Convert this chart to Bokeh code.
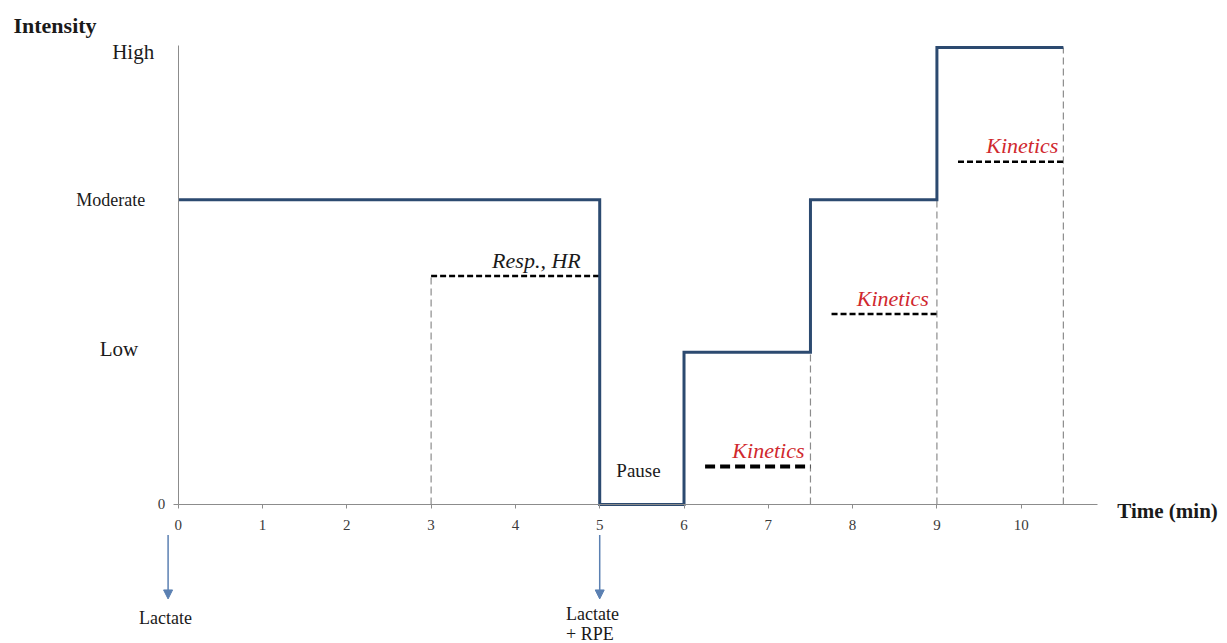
from bokeh.plotting import figure
from bokeh.models import Range1d, FixedTicker, Label, Arrow, NormalHead
from bokeh.core.properties import value
from bokeh.embed import file_html
from bokeh.resources import INLINE

# ---------------- data ----------------
step_times = [0, 5, 6, 7.5, 9, 10.5]          # min, start of each stage (+ end)
step_levels = [2, 0, 1, 2, 3, 3]              # intensity level of each stage
level_values = [0, 1, 2, 3]
level_names = ["0", "Low", "Moderate", "High"]
x_ticks = [0, 1, 2, 3, 4, 5, 6, 7, 8, 9, 10]

guide_x = [3, 7.5, 9, 10.5]                   # thin grey dashed verticals
guide_top = [1.5, 1, 2, 3]

window_start = [3, 6.25, 7.75, 9.25]          # measurement windows
window_end = [5, 7.5, 9, 10.5]
window_level = [1.5, 0.25, 1.25, 2.25]
window_labels = ["Resp., HR", "Kinetics", "Kinetics", "Kinetics"]

pause_label = "Pause"
pause_time = 5.46
pause_level = 0.22

sample_times = [-0.12, 5.0]                   # blood sampling arrows
sample_labels = [["Lactate"], ["Lactate", "+ RPE"]]

# ---------------- styles ----------------
SERIF = "Liberation Serif"
TXT = "#1a1a1a"
RED = "#d0282e"
BLUE = "#2c4a70"
GREY = "#8c8c8c"
ARROW = "#5b80b2"
win_colors = [TXT, RED, RED, RED]
win_widths = [2.5, 4, 2.5, 2.5]
win_dashes = ["6 3", "10 5", "6 3", "6 3"]
lbl_xoff = [-19, -6, -8, -5]

X_END = 10.9
Y_END = 3.013

p = figure(width=1227, height=643,
           x_range=Range1d(-2.108, 12.447), y_range=Range1d(-0.9125, 3.3086),
           output_backend="svg", toolbar_location=None,
           min_border=0, min_border_left=0, min_border_right=0,
           min_border_top=0, min_border_bottom=0)
p.title.visible = False
p.grid.visible = False
p.outline_line_color = None
p.background_fill_color = "white"
p.border_fill_color = "white"

# axes (drawn at x=0 / y=0 inside the frame)
p.xaxis.fixed_location = 0
p.xaxis.bounds = (0, X_END)
p.xaxis.ticker = FixedTicker(ticks=x_ticks)
p.xaxis.minor_tick_line_color = None
p.xaxis.axis_line_color = GREY
p.xaxis.major_tick_line_color = GREY
p.xaxis.major_tick_in = 0
p.xaxis.major_tick_out = 4
p.xaxis.major_label_standoff = 12
p.xaxis.major_label_text_font = SERIF
p.xaxis.major_label_text_font_size = "15px"
p.xaxis.major_label_text_color = "#3a3a3a"

p.yaxis.fixed_location = 0
p.yaxis.bounds = (0, Y_END)
p.yaxis.ticker = FixedTicker(ticks=[level_values[0]])
p.yaxis.major_label_overrides = {level_values[0]: level_names[0]}
p.yaxis.minor_tick_line_color = None
p.yaxis.axis_line_color = GREY
p.yaxis.major_tick_line_color = GREY
p.yaxis.major_tick_in = 0
p.yaxis.major_tick_out = 5
p.yaxis.major_label_standoff = 8
p.yaxis.major_label_text_font = SERIF
p.yaxis.major_label_text_font_size = "15px"
p.yaxis.major_label_text_color = "#3a3a3a"

# level names left of the axis
lvl_sizes = {"Low": "21px", "Moderate": "18px", "High": "21px"}
lvl_xoff = {"Low": -40, "Moderate": -33, "High": -24}
lvl_yoff = {"Low": 3, "Moderate": 0, "High": -4}
for v, name in zip(level_values[1:], level_names[1:]):
    p.add_layout(Label(x=0, y=v, text=name, x_offset=lvl_xoff[name],
                       y_offset=lvl_yoff[name],
                       text_align="right", text_baseline="middle",
                       text_font=SERIF, text_font_size=lvl_sizes[name],
                       text_color=TXT))

# guide verticals
p.segment(x0=guide_x, y0=[0] * len(guide_x), x1=guide_x, y1=guide_top,
          line_color=GREY, line_dash="7 4", line_width=1.2)

# measurement windows
for i in range(len(window_start)):
    p.segment(x0=[window_start[i]], y0=[window_level[i]],
              x1=[window_end[i]], y1=[window_level[i]],
              line_color="black", line_width=win_widths[i], line_dash=win_dashes[i])
    p.text(x=[window_end[i]], y=[window_level[i]], text=[window_labels[i]],
           x_offset=lbl_xoff[i], y_offset=-16,
           text_align="right", text_baseline="middle",
           text_font=value(SERIF), text_font_style="italic",
           text_font_size="22px", text_color=win_colors[i])

# intensity protocol
p.step(step_times, step_levels, mode="after", line_color=BLUE, line_width=3,
       line_join="miter")

p.text(x=[pause_time], y=[pause_level], text=[pause_label],
       text_align="center", text_baseline="middle",
       text_font=value(SERIF), text_font_size="19px", text_color=TXT)

# sampling arrows + labels
for t in sample_times:
    p.add_layout(Arrow(end=NormalHead(size=9, fill_color=ARROW, line_color=ARROW),
                       x_start=t, y_start=-0.2, x_end=t, y_end=-0.62,
                       line_color=ARROW, line_width=1.5))
p.add_layout(Label(x=-0.15, y=-0.742, text=sample_labels[0][0], text_align="center",
                   text_baseline="middle", text_font=SERIF,
                   text_font_size="18px", text_color=TXT))
for j, line in enumerate(sample_labels[1]):
    p.add_layout(Label(x=4.60, y=-0.716 - 0.131 * j, text=line, text_align="left",
                       text_baseline="middle", text_font=SERIF,
                       text_font_size="18px", text_color=TXT))

# axis titles
p.add_layout(Label(x=-1.954, y=3.145, text="Intensity", text_align="left",
                   text_baseline="middle", text_font=SERIF,
                   text_font_style="bold", text_font_size="22px", text_color=TXT))
p.add_layout(Label(x=11.14, y=-0.04, text="Time (min)", text_align="left",
                   text_baseline="middle", text_font=SERIF,
                   text_font_style="bold", text_font_size="21px", text_color=TXT))

open("out.html", "w").write(file_html(p, INLINE))
